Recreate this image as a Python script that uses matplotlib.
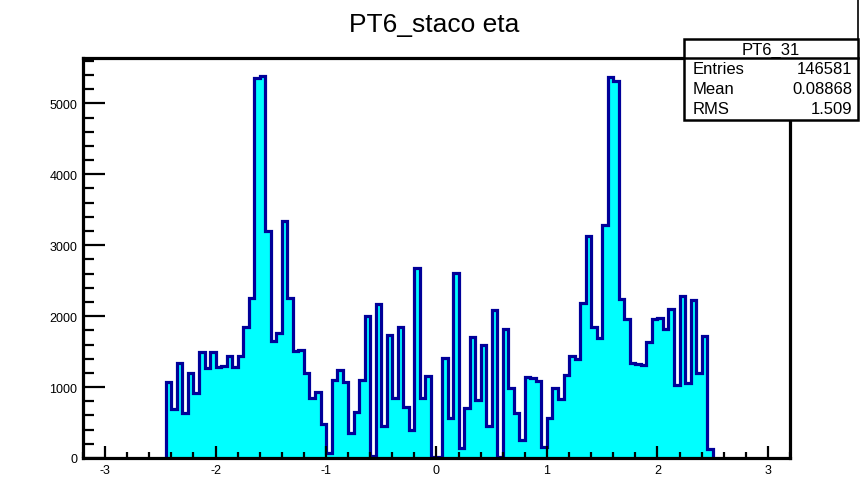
import matplotlib

matplotlib.use("Agg")
import matplotlib.pyplot as plt
import numpy as np
from matplotlib.lines import Line2D
from matplotlib.patches import Rectangle
from matplotlib.ticker import MultipleLocator


WIDTH, HEIGHT = 862, 485

TITLE = "PT6_staco eta"
HIST_NAME = "PT6_31"
STAT_LABELS = ["Entries", "Mean", "RMS"]
STAT_VALUES = ["146581", "0.08868", "1.509"]

# binning: 0.05 wide bins starting at eta = -2.45
BIN_START = -2.45
BIN_WIDTH = 0.05
COUNTS = [
    1077, 693, 1344, 633, 1204, 914, 1499, 1265, 1499, 1288,
    1300, 1438, 1279, 1438, 1851, 2250, 5357, 5380, 3196, 1649,
    1766, 3341, 2258, 1509, 1523, 1204, 844, 928, 478, 70,
    1101, 1241, 1077, 351, 655, 1101, 2005, 30, 2170, 454,
    1734, 844, 1851, 726, 388, 2686, 844, 1157, 20, 20,
    1415, 562, 2610, 140, 703, 1710, 820, 1593, 454, 2085,
    10, 1813, 993, 633, 257, 1148, 1125, 1092, 154, 562,
    993, 834, 1171, 1443, 1392, 2180, 3130, 1851, 1687, 3280,
    5375, 5310, 2240, 1954, 1336, 1330, 1312, 1640, 1954, 1968,
    1813, 2095, 1031, 2287, 1063, 2226, 1195, 1720, 126,
]

X_RANGE = (-3.2, 3.2)
Y_RANGE = (0, 5640)

FILL = "#00ffff"
LINE = "#000099"
FONT = "Liberation Sans"


def fx(px):
    return px / WIDTH


def fy(py):
    return 1 - py / HEIGHT


def main():
    plt.rcParams["font.family"] = FONT
    plt.rcParams["axes.unicode_minus"] = False

    counts = np.array(COUNTS, dtype=float)
    edges = np.round(BIN_START + BIN_WIDTH * np.arange(len(counts) + 1), 3)

    fig = plt.figure(figsize=(WIDTH / 100, HEIGHT / 100), dpi=100)
    ax = fig.add_axes([fx(83), fy(459), fx(790) - fx(83), fy(59) - fy(459)])

    ax.stairs(counts, edges, fill=True, color=FILL, linewidth=0)
    ax.stairs(counts, edges, baseline=0, color=LINE, linewidth=2.3)

    ax.set_xlim(*X_RANGE)
    ax.set_ylim(*Y_RANGE)
    for spine in ax.spines.values():
        spine.set_linewidth(2.3)
        spine.set_zorder(5)

    ax.xaxis.set_major_locator(MultipleLocator(1))
    ax.xaxis.set_minor_locator(MultipleLocator(0.2))
    ax.yaxis.set_major_locator(MultipleLocator(1000))
    ax.yaxis.set_minor_locator(MultipleLocator(200))
    ax.tick_params(axis="both", which="both", direction="in", width=1.6,
                   labelsize=9, top=False, right=False)
    ax.tick_params(axis="y", which="major", length=16, pad=4)
    ax.tick_params(axis="y", which="minor", length=8)
    ax.tick_params(axis="x", which="major", length=8.5, pad=4.5)
    ax.tick_params(axis="x", which="minor", length=4.3)

    fig.text(fx(434), fy(25), TITLE, ha="center", va="center", fontsize=19)

    # statistics box in the top right corner
    box = Rectangle((fx(684), fy(121)), fx(858) - fx(684), fy(40) - fy(121),
                    transform=fig.transFigure, facecolor="white",
                    edgecolor="black", linewidth=1.8, zorder=10)
    fig.add_artist(box)
    fig.add_artist(Line2D([fx(684), fx(858)], [fy(59), fy(59)],
                          transform=fig.transFigure, color="black",
                          linewidth=1.8, zorder=11))
    fig.add_artist(Line2D([fx(858), fx(858)], [fy(0), fy(40)],
                          transform=fig.transFigure, color="black",
                          linewidth=1.2, zorder=11))
    fig.text(fx(771), fy(50), HIST_NAME, ha="center", va="center",
             fontsize=12, zorder=12)
    for row, (label, value) in enumerate(zip(STAT_LABELS, STAT_VALUES)):
        y = fy(70 + 20 * row)
        fig.text(fx(693), y, label, ha="left", va="center", fontsize=12,
                 zorder=12)
        fig.text(fx(852), y, value, ha="right", va="center", fontsize=12,
                 zorder=12)

    fig.savefig("out.png", dpi=100, facecolor="white")
    plt.close(fig)


if __name__ == "__main__":
    main()
